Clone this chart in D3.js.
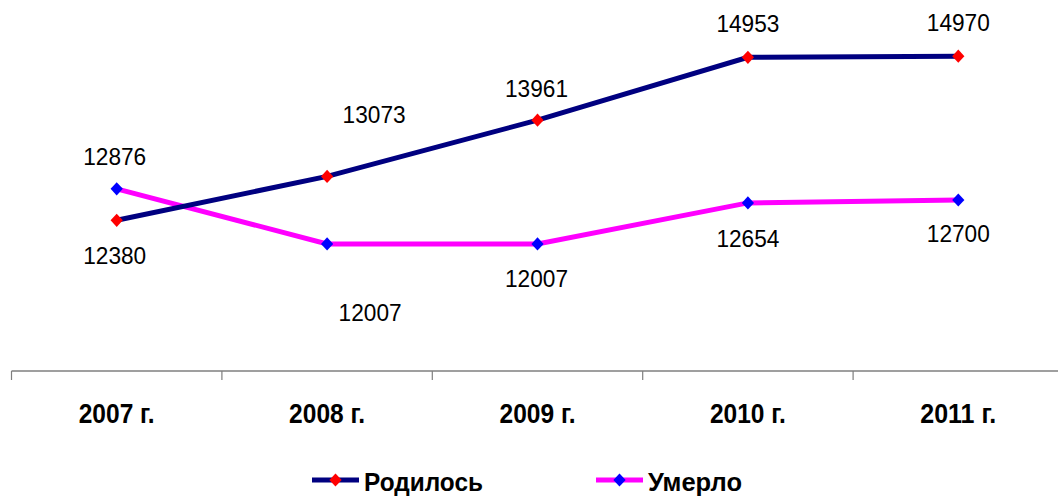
<!DOCTYPE html>
<html>
<head>
<meta charset="utf-8">
<script src="https://cdn.jsdelivr.net/npm/d3@7"></script>
<style>
  body { margin: 0; background: #fff; }
  text { font-family: "Liberation Sans", Arial, sans-serif; }
</style>
</head>
<body>
<svg id="chart"></svg>
<script>
const width = 1058, height = 496;

// Data
const years = ["2007 г.", "2008 г.", "2009 г.", "2010 г.", "2011 г."];
const born = [12380, 13073, 13961, 14953, 14970];
const died = [12876, 12007, 12007, 12654, 12700];
const seriesNames = ["Родилось", "Умерло"];

// Label offsets from each point (dx, dy to baseline)
const bornLabelOffsets = [[-2, 44], [47, -53], [-1, -23], [0, -25], [0, -25]];
const diedLabelOffsets = [[-2, -24], [43, 77], [-1, 43], [0, 44], [0, 42]];

const svg = d3.select("#chart")
    .attr("width", width)
    .attr("height", height);

// Scales
const xScale = d3.scaleBand().domain(years).range([11.5, 1063.5]);
const yScale = d3.scaleLinear().domain([10000, 16000]).range([371, -9]);
const cx = d => xScale(d) + xScale.bandwidth() / 2;

// Axis line + ticks at band edges
const axisY = yScale(10000);
svg.append("line")
    .attr("x1", xScale.range()[0]).attr("x2", width)
    .attr("y1", axisY).attr("y2", axisY)
    .attr("stroke", "#7f7f7f").attr("stroke-width", 1.5);

svg.selectAll(".tick")
    .data(years.map(d => xScale(d)).concat([xScale.range()[1]]))
    .enter().append("line")
    .attr("x1", d => d).attr("x2", d => d)
    .attr("y1", axisY).attr("y2", axisY + 9)
    .attr("stroke", "#7f7f7f").attr("stroke-width", 1.2);

svg.selectAll(".xlabel")
    .data(years)
    .enter().append("text")
    .attr("x", d => cx(d))
    .attr("y", 423)
    .attr("text-anchor", "middle")
    .attr("font-size", 28)
    .attr("font-weight", "bold")
    .attr("textLength", 76)
    .attr("lengthAdjust", "spacingAndGlyphs")
    .text(d => d);

const line = d3.line()
    .x((d, i) => cx(years[i]))
    .y(d => yScale(d));

const diamond = d3.symbol().type(d3.symbolDiamond).size(90);
const mScale = "scale(1.2,0.75)";

function drawSeries(values, offsets, lineColor, markerColor) {
    svg.append("path")
        .datum(values)
        .attr("fill", "none")
        .attr("stroke", lineColor)
        .attr("stroke-width", 5)
        .attr("d", line);

    svg.append("g").selectAll("path")
        .data(values)
        .enter().append("path")
        .attr("d", diamond)
        .attr("transform", (d, i) => `translate(${cx(years[i])},${yScale(d)}) ${mScale}`)
        .attr("fill", markerColor);

    svg.append("g").selectAll("text")
        .data(values)
        .enter().append("text")
        .attr("x", (d, i) => cx(years[i]) + offsets[i][0])
        .attr("y", (d, i) => yScale(d) + offsets[i][1])
        .attr("text-anchor", "middle")
        .attr("font-size", 24)
        .attr("textLength", 63)
        .attr("lengthAdjust", "spacingAndGlyphs")
        .attr("fill", "#000")
        .text(d => d);
}

drawSeries(died, diedLabelOffsets, "#ff00ff", "#0000ff");
drawSeries(born, bornLabelOffsets, "#000080", "#ff0000");

// Legend
const legend = [
    { name: seriesNames[0], line: "#000080", marker: "#ff0000", x: 312, tw: 119 },
    { name: seriesNames[1], line: "#ff00ff", marker: "#0000ff", x: 596, tw: 94 }
];
const lg = svg.append("g").selectAll("g")
    .data(legend)
    .enter().append("g")
    .attr("transform", d => `translate(${d.x},480)`);

lg.append("line")
    .attr("x1", 0).attr("x2", 47)
    .attr("stroke", d => d.line)
    .attr("stroke-width", 5);

lg.append("path")
    .attr("d", diamond)
    .attr("transform", `translate(23.5,0) ${mScale}`)
    .attr("fill", d => d.marker);

lg.append("text")
    .attr("x", 52)
    .attr("y", 11)
    .attr("font-size", 26)
    .attr("font-weight", "bold")
    .attr("textLength", d => d.tw)
    .attr("lengthAdjust", "spacingAndGlyphs")
    .text(d => d.name);
</script>
</body>
</html>
